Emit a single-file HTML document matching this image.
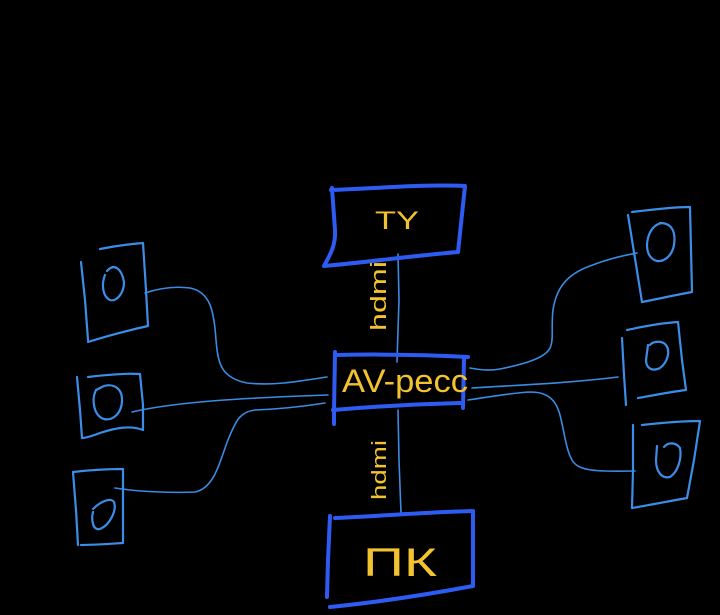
<!DOCTYPE html>
<html><head><meta charset="utf-8"><style>
html,body{margin:0;padding:0;background:#000;}
svg{display:block;}
text{font-family:"Liberation Sans",sans-serif;fill:#f2c230;}
</style></head><body>
<svg width="720" height="615" viewBox="0 0 720 615" xmlns="http://www.w3.org/2000/svg">
<rect width="720" height="615" fill="#000"/>
<!-- connectors -->
<g fill="none" stroke="#3a8be2" stroke-width="1.6" stroke-linecap="round">
  <!-- vertical hdmi lines -->
  <path d="M398 254 L399 300 L398 330 L397 362"/>
  <path d="M398 410 L399 460 L401 513"/>
  <!-- left -->
  <path d="M145 293 C160 288 175 286 190 288 C210 292 214 310 216 340 C218 365 222 378 247 383 C275 386 300 381 327 377"/>
  <path d="M132 412 C175 402 240 398 328 395"/>
  <path d="M115 488 C140 492 175 493 195 492 C215 488 220 460 228 440 C236 420 240 412 255 410 C280 409 300 407 325 403"/>
  <!-- right -->
  <path d="M470 368 C480 370 490 371 500 369 C525 364 545 358 550 348 C554 340 551 325 553 310 C556 290 565 275 590 266 C605 260 620 256 637 253"/>
  <path d="M472 388 C520 385 570 383 618 377"/>
  <path d="M468 400 C490 397 510 393 530 392 C548 392 556 400 560 415 C564 430 566 450 572 460 C578 470 590 472 635 471"/>
</g>
<!-- speakers -->
<g fill="none" stroke="#3b8de8" stroke-width="2.2" stroke-linecap="round" stroke-linejoin="round">
  <!-- L1 -->
  <path d="M100 249 C115 246 130 244 143 243 L146 290 L148 326 C130 330 110 335 88 342"/>
  <path d="M81 262 L85 300 L88 340"/>
  <path d="M107 271 C115 262 122 270 124 282 C124 294 116 302 110 300 C103 297 101 285 105 275"/>
  <!-- L2 -->
  <path d="M88 377 C105 375 125 373 140 374 L143 405 L143 430 C130 425 115 428 100 433 C92 436 86 438 82 438"/>
  <path d="M77 377 L80 410 L82 438"/>
  <path d="M100 388 C110 382 122 386 122 400 C122 414 112 421 104 419 C94 416 91 400 96 390 L100 388"/>
  <!-- L3 -->
  <path d="M73 472 C90 470 108 469 123 469 L123 508 L123 543 C108 544 95 545 81 545"/>
  <path d="M73 472 L76 510 L78 545"/>
  <path d="M93 509 C100 502 110 497 114 502 C117 510 110 525 100 529 C93 531 91 520 93 512"/>
  <!-- R1 -->
  <path d="M632 212 C650 210 670 207 690 207 L691 250 L692 292 C675 295 658 299 642 302"/>
  <path d="M628 215 C632 240 637 270 642 302"/>
  <path d="M660 223 C672 223 676 232 674 245 C672 256 664 262 657 261 C649 259 645 250 648 238 C650 230 655 224 662 223"/>
  <!-- R2 -->
  <path d="M627 330 C645 326 662 323 678 322 L682 360 L686 390 C670 392 655 395 638 398"/>
  <path d="M622 338 L624 375 L626 405"/>
  <path d="M648 345 L646 360 C646 368 652 372 660 368 C668 362 671 350 665 344 C660 340 652 342 650 345"/>
  <!-- R3 -->
  <path d="M642 425 C660 423 680 421 700 421 L694 460 L687 498 C670 501 650 505 632 508"/>
  <path d="M633 425 L633 470 L632 508"/>
  <path d="M657 446 L656 460 C656 472 662 479 670 477 C678 472 682 458 680 448 C676 442 668 442 664 447"/>
</g>
<!-- main boxes -->
<g fill="none" stroke="#2e5cf3" stroke-width="4" stroke-linecap="round" stroke-linejoin="round">
  <!-- TV -->
  <path d="M331 190 C370 189 420 184 465 186 L458 252 C410 256 370 262 324 266 C330 255 336 245 335 230 L332 188"/>
  <!-- AV -->
  <path d="M335 352 L334 412"/>
  <path d="M335 355 C380 354 430 355 468 357"/>
  <path d="M464 357 L463 408"/>
  <path d="M333 410 C380 406 420 404 460 403"/>
  <path d="M334 412 L334 424"/>
  <!-- PC -->
  <path d="M335 518 C380 516 430 512 473 511 L473 586 C430 594 380 602 330 607"/>
  <path d="M330 516 L328 560 L327 597"/>
</g>
<!-- labels -->
<text x="375" y="229" font-size="25" textLength="44" lengthAdjust="spacingAndGlyphs">TY</text>
<text x="342" y="392" font-size="32" textLength="126" lengthAdjust="spacingAndGlyphs">AV-pecc</text>
<text x="363" y="576" font-size="40" textLength="74" lengthAdjust="spacingAndGlyphs">ПК</text>
<text transform="translate(386,331) rotate(-90)" font-size="22" textLength="70" lengthAdjust="spacingAndGlyphs">hdmi</text>
<text transform="translate(386,500) rotate(-90)" font-size="20" textLength="60" lengthAdjust="spacingAndGlyphs">hdmi</text>
</svg>
</body></html>
